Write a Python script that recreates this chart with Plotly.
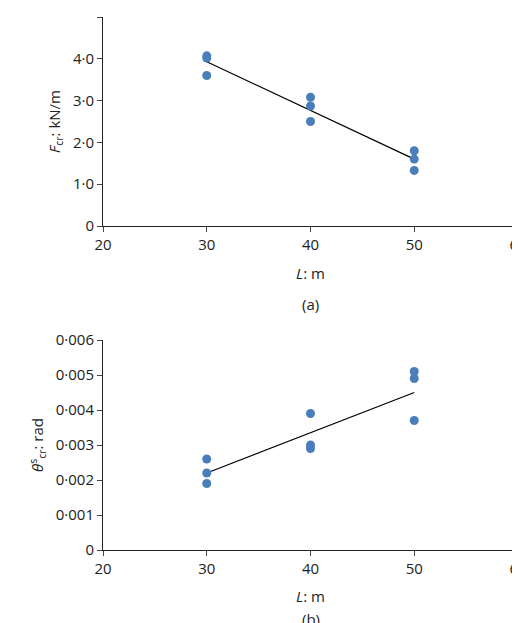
import plotly.graph_objects as go

L_a = [30, 30, 30, 40, 40, 40, 50, 50, 50]
F_cr = [4.07, 4.02, 3.6, 3.08, 2.87, 2.5, 1.8, 1.6, 1.33]
fit_a_x = [30, 50]
fit_a_y = [3.93, 1.6]

L_b = [30, 30, 30, 40, 40, 40, 50, 50, 50]
theta = [0.0026, 0.0022, 0.0019, 0.0039, 0.0030, 0.0029, 0.0051, 0.0049, 0.0037]
fit_b_x = [30, 50]
fit_b_y = [0.0022, 0.0045]

xt = [20, 30, 40, 50, 60]
ya = [0, 1, 2, 3, 4, 5]
ya_t = ["0", "1·0", "2·0", "3·0", "4·0", "5·0"]
yb = [0, 0.001, 0.002, 0.003, 0.004, 0.005, 0.006]
yb_t = ["0", "0·001", "0·002", "0·003", "0·004", "0·005", "0·006"]

blue = "#4a7ebb"
fig = go.Figure()
fig.add_trace(go.Scatter(x=fit_a_x, y=fit_a_y, mode="lines", line=dict(color="black", width=1.2), xaxis="x", yaxis="y"))
fig.add_trace(go.Scatter(x=L_a, y=F_cr, mode="markers", marker=dict(color=blue, size=9), xaxis="x", yaxis="y"))
fig.add_trace(go.Scatter(x=fit_b_x, y=fit_b_y, mode="lines", line=dict(color="black", width=1.2), xaxis="x2", yaxis="y2"))
fig.add_trace(go.Scatter(x=L_b, y=theta, mode="markers", marker=dict(color=blue, size=9), xaxis="x2", yaxis="y2"))

ax = dict(range=[20, 60], tickvals=xt, showline=True, linecolor="#222", linewidth=1, ticks="outside",
          ticklen=5, showgrid=False, zeroline=False, tickfont=dict(size=15, color="#222"), automargin=False)
ay = dict(showline=True, linecolor="#222", linewidth=1, ticks="outside", ticklen=5, showgrid=False,
          zeroline=False, tickfont=dict(size=15, color="#222"), automargin=False)
fig.update_layout(
    width=520, height=623, showlegend=False, plot_bgcolor="white", paper_bgcolor="white",
    margin=dict(l=95, r=10, t=0, b=0, autoexpand=False), font=dict(family="Open Sans", color="#222"),
    xaxis=dict(ax, anchor="y"),
    yaxis=dict(ay, domain=[1 - 218/623, 1 - 9/623], range=[0, 5], tickvals=ya, ticktext=ya_t,
               title=dict(text="<i>F</i><sub>cr</sub>: kN/m", font=dict(size=15), standoff=8)),
    xaxis2=dict(ax, anchor="y2"),
    yaxis2=dict(ay, domain=[1 - 542/623, 1 - 332/623], range=[0, 0.006], tickvals=yb, ticktext=yb_t,
                title=dict(text="<i>θ</i><sup>s</sup><sub>cr</sub>: rad", font=dict(size=15), standoff=8)),
    annotations=[
        dict(text="<i>L</i>: m", x=40, xref="x", y=1 - 265/623, yref="paper", yanchor="middle", showarrow=False, font=dict(size=15)),
        dict(text="(a)", x=40, xref="x", y=1 - 296/623, yref="paper", yanchor="middle", showarrow=False, font=dict(size=15)),
        dict(text="<i>L</i>: m", x=40, xref="x2", y=1 - 588/623, yref="paper", yanchor="middle", showarrow=False, font=dict(size=15)),
        dict(text="(b)", x=40, xref="x2", y=1 - 611/623, yref="paper", yanchor="middle", showarrow=False, font=dict(size=15)),
    ],
)
fig.write_html("out.html")
